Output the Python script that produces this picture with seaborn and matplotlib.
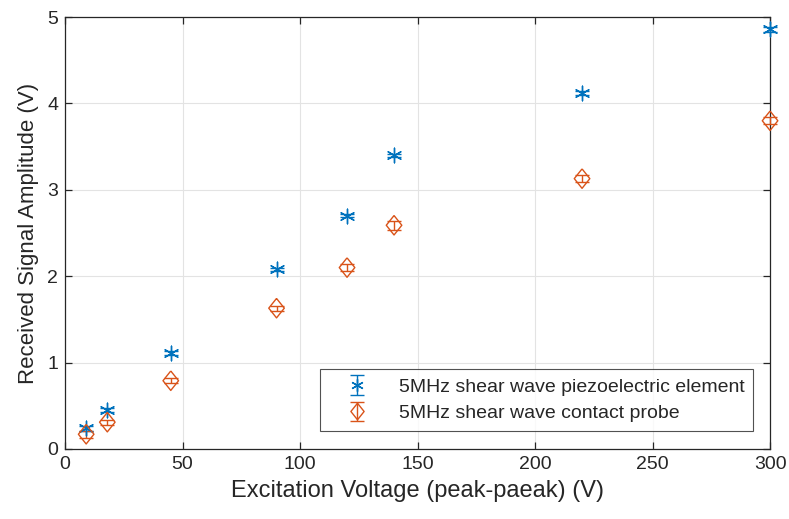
import numpy as np
import pandas as pd
import matplotlib
matplotlib.use("Agg")
import matplotlib.pyplot as plt
import seaborn as sns
from matplotlib.legend_handler import HandlerTuple

# --- data ---
voltage = [9, 18, 45, 90, 120, 140, 220, 300]
piezo_amp = [0.24, 0.45, 1.11, 2.08, 2.70, 3.40, 4.12, 4.86]
piezo_err = [0.03, 0.02, 0.02, 0.02, 0.02, 0.02, 0.02, 0.03]
probe_amp = [0.17, 0.31, 0.79, 1.63, 2.10, 2.59, 3.13, 3.80]
probe_err = [0.04, 0.03, 0.03, 0.03, 0.04, 0.05, 0.04, 0.04]

labels = ["5MHz shear wave piezoelectric element", "5MHz shear wave contact probe"]
blue = "#0072BD"
orange = "#D95319"

sns.set_style("ticks")
plt.rcParams['font.family'] = ['Liberation Sans', 'DejaVu Sans']

df = pd.concat([
    pd.DataFrame({"V": voltage, "A": piezo_amp, "err": piezo_err, "series": labels[0]}),
    pd.DataFrame({"V": voltage, "A": probe_amp, "err": probe_err, "series": labels[1]}),
])

fig = plt.figure(figsize=(7.89, 5.19), dpi=100)
ax = fig.add_axes([0.0824, 0.135, 0.8936, 0.832])

diamond = [(0, 1), (0.8, 0), (0, -1), (-0.8, 0), (0, 1)]
asterisk = (6, 2, 0)

handles = []
for lab, col, mk, ms in [(labels[0], blue, asterisk, 10.5), (labels[1], orange, diamond, 14)]:
    sub = df[df["series"] == lab]
    eb = ax.errorbar(sub["V"], sub["A"], yerr=sub["err"], fmt="none",
                     ecolor=col, elinewidth=1.0, capsize=5, capthick=1.0, zorder=3)
    for art in eb.lines[1] + eb.lines[2]:
        art.set_clip_on(False)
    sns.scatterplot(data=sub, x="V", y="A", ax=ax, marker=mk, s=ms ** 2,
                    color=col, linewidth=1.0, legend=False, zorder=4, clip_on=False)
    pts = ax.collections[-1]
    if mk is diamond:
        pts.set_facecolor("none")
        pts.set_edgecolor(col)
    h_mark = plt.Line2D([], [], marker=mk, color=col, linestyle="none",
                        markersize=ms * 0.85, markerfacecolor="none", markeredgewidth=1.0)
    h_err = ax.errorbar([0], [np.nan], yerr=[0.0], fmt="none", ecolor=col,
                        elinewidth=1.0, capsize=5, capthick=1.0)
    handles.append((h_err, h_mark))

ax.set_xlim(0, 300)
ax.set_ylim(0, 5)
ax.set_xticks(np.arange(0, 301, 50))
ax.set_yticks(np.arange(0, 6, 1))
ax.grid(True, color="#e3e3e3", linewidth=0.8)
ax.set_axisbelow(True)
for s in ax.spines.values():
    s.set_visible(True)
    s.set_color("#262626")
    s.set_linewidth(0.9)
ax.tick_params(direction="in", top=True, right=True, length=5, width=0.9,
               colors="#262626", labelsize=14, pad=5)

ax.set_xlabel("Excitation Voltage (peak-paeak) (V)", fontsize=17, color="#262626", labelpad=5)
ax.set_ylabel("Received Signal Amplitude (V)", fontsize=16, color="#262626", labelpad=6)

leg = ax.legend(handles, labels, loc="lower right", bbox_to_anchor=(0.976, 0.042),
                fontsize=14, frameon=True, fancybox=False, edgecolor="#262626",
                handler_map={tuple: HandlerTuple(ndivide=1)},
                handlelength=2.9, borderpad=0.45, labelspacing=0.45, handletextpad=0.7,
                borderaxespad=0)
leg.get_frame().set_linewidth(0.8)

fig.savefig("out.png", dpi=100)
